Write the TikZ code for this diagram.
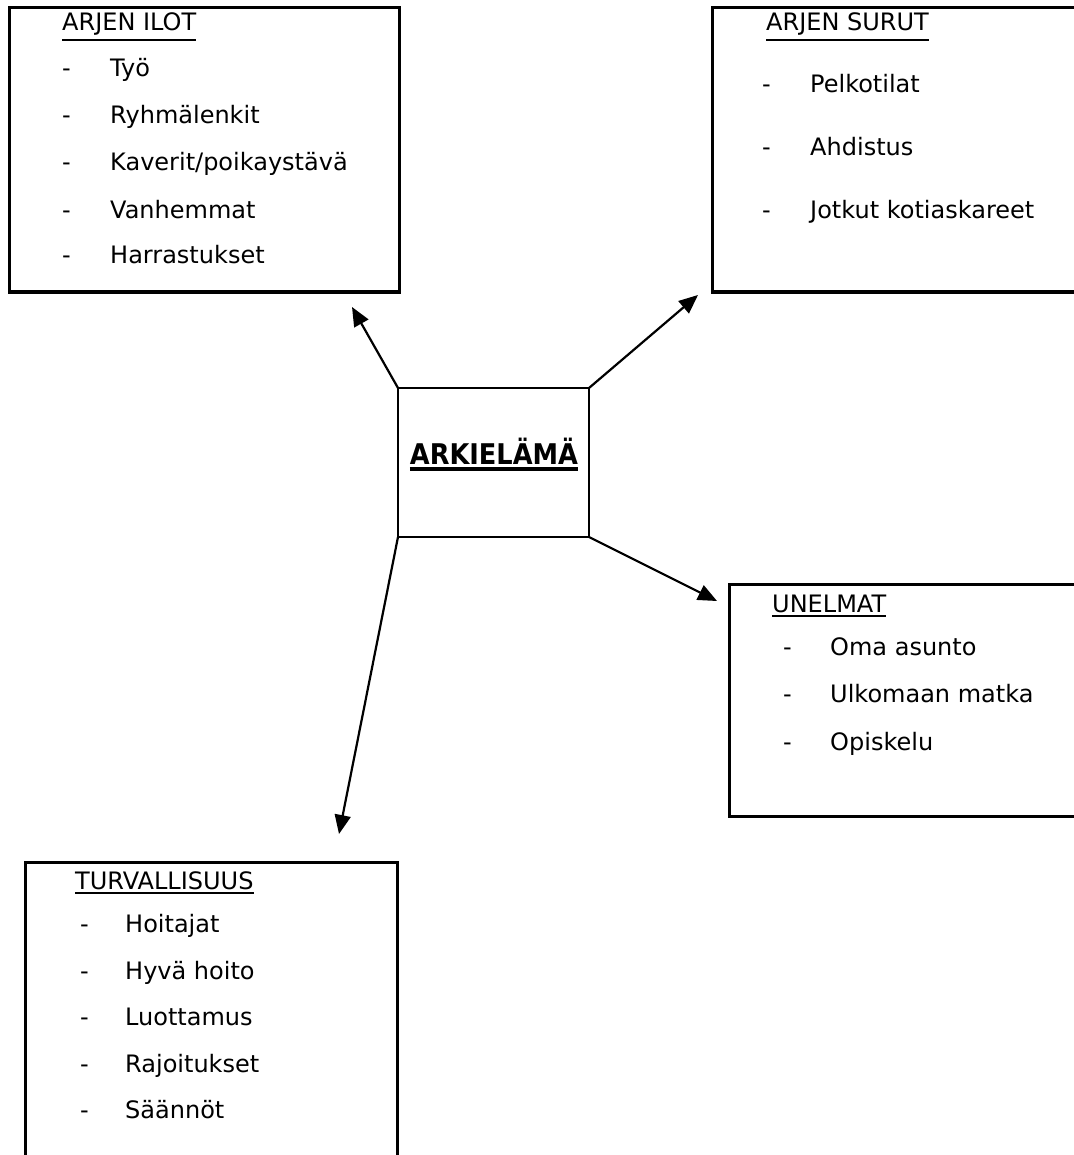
\documentclass[tikz,border=0pt]{standalone}
\usepackage{fontspec}
\setmainfont{DejaVu Sans}
\newfontfamily\cbold{DejaVu Sans Condensed}
\usetikzlibrary{arrows.meta}
\newcommand{\myul}[2][2pt]{\leavevmode\vtop{\hbox{#2}\kern 3pt\hrule height #1}}
\tikzset{
  frame/.style={draw, line width=3pt, anchor=north west, inner sep=0pt, outer sep=0pt},
  cbox/.style={draw, line width=2.4pt, anchor=north west, inner sep=0pt, outer sep=0pt},
  txt/.style={anchor=base west, inner sep=0pt, font=\fontsize{24}{28}\selectfont},
  ttl/.style={txt},
  arr/.style={line width=2.2pt, -{Triangle[length=19pt,width=16pt]}},
}
\begin{document}
\begin{tikzpicture}[x=1pt,y=-1pt]
\useasboundingbox (0,0) rectangle (1073,1155);
% boxes
\node[frame, minimum width=390pt, minimum height=284pt] (b1) at (9,8) {};
\node[frame, minimum width=370pt, minimum height=284pt] (b2) at (712,8) {};
\node[frame, minimum width=355pt, minimum height=232pt] (b3) at (729,584) {};
\node[frame, minimum width=372pt, minimum height=305pt] (b4) at (25,862) {};
\node[cbox, minimum width=191pt, minimum height=149pt] (c) at (398,388) {};
\node[anchor=base, inner sep=0pt, font=\cbold\fontsize{28.5}{32}\bfseries\selectfont] (ct) at (494,464) {\myul[4pt]{ARKIELÄMÄ}};
% box 1
\node[ttl] (t1) at (62,31) {\myul{ARJEN ILOT}};
\node[txt] (d11) at (62,77) {-};  \node[txt] (i11) at (110,77) {Työ};
\node[txt] (d12) at (62,124) {-}; \node[txt] (i12) at (110,124) {Ryhmälenkit};
\node[txt] (d13) at (62,171) {-}; \node[txt] (i13) at (110,171) {Kaverit/poikaystävä};
\node[txt] (d14) at (62,219) {-}; \node[txt] (i14) at (110,219) {Vanhemmat};
\node[txt] (d15) at (62,264) {-}; \node[txt] (i15) at (110,264) {Harrastukset};
% box 2
\node[ttl] (t2) at (766,31) {\myul{ARJEN SURUT}};
\node[txt] (d21) at (762,93) {-};  \node[txt] (i21) at (810,93) {Pelkotilat};
\node[txt] (d22) at (762,156) {-}; \node[txt] (i22) at (810,156) {Ahdistus};
\node[txt] (d23) at (762,219) {-}; \node[txt] (i23) at (810,219) {Jotkut kotiaskareet};
% box 3
\node[ttl] (t3) at (772,612) {\myul{UNELMAT}};
\node[txt] (d31) at (783,655) {-}; \node[txt] (i31) at (830,655) {Oma asunto};
\node[txt] (d32) at (783,702) {-}; \node[txt] (i32) at (830,702) {Ulkomaan matka};
\node[txt] (d33) at (783,750) {-}; \node[txt] (i33) at (830,750) {Opiskelu};
% box 4
\node[ttl] (t4) at (75,889) {\myul{TURVALLISUUS}};
\node[txt] (d41) at (80,932) {-};  \node[txt] (i41) at (125,932) {Hoitajat};
\node[txt] (d42) at (80,979) {-};  \node[txt] (i42) at (125,979) {Hyvä hoito};
\node[txt] (d43) at (80,1025) {-}; \node[txt] (i43) at (125,1025) {Luottamus};
\node[txt] (d44) at (80,1072) {-}; \node[txt] (i44) at (125,1072) {Rajoitukset};
\node[txt] (d45) at (80,1118) {-}; \node[txt] (i45) at (125,1118) {Säännöt};
% arrow tips
\coordinate (a1) at (352,307);
\coordinate (a2) at (698,295);
\coordinate (a3) at (717,601);
\coordinate (a4) at (339,834);
\draw[arr] (c.north west) -- (a1);
\draw[arr] (c.north east) -- (a2);
\draw[arr] (c.south east) -- (a3);
\draw[arr] (c.south west) -- (a4);
\end{tikzpicture}
\end{document}
